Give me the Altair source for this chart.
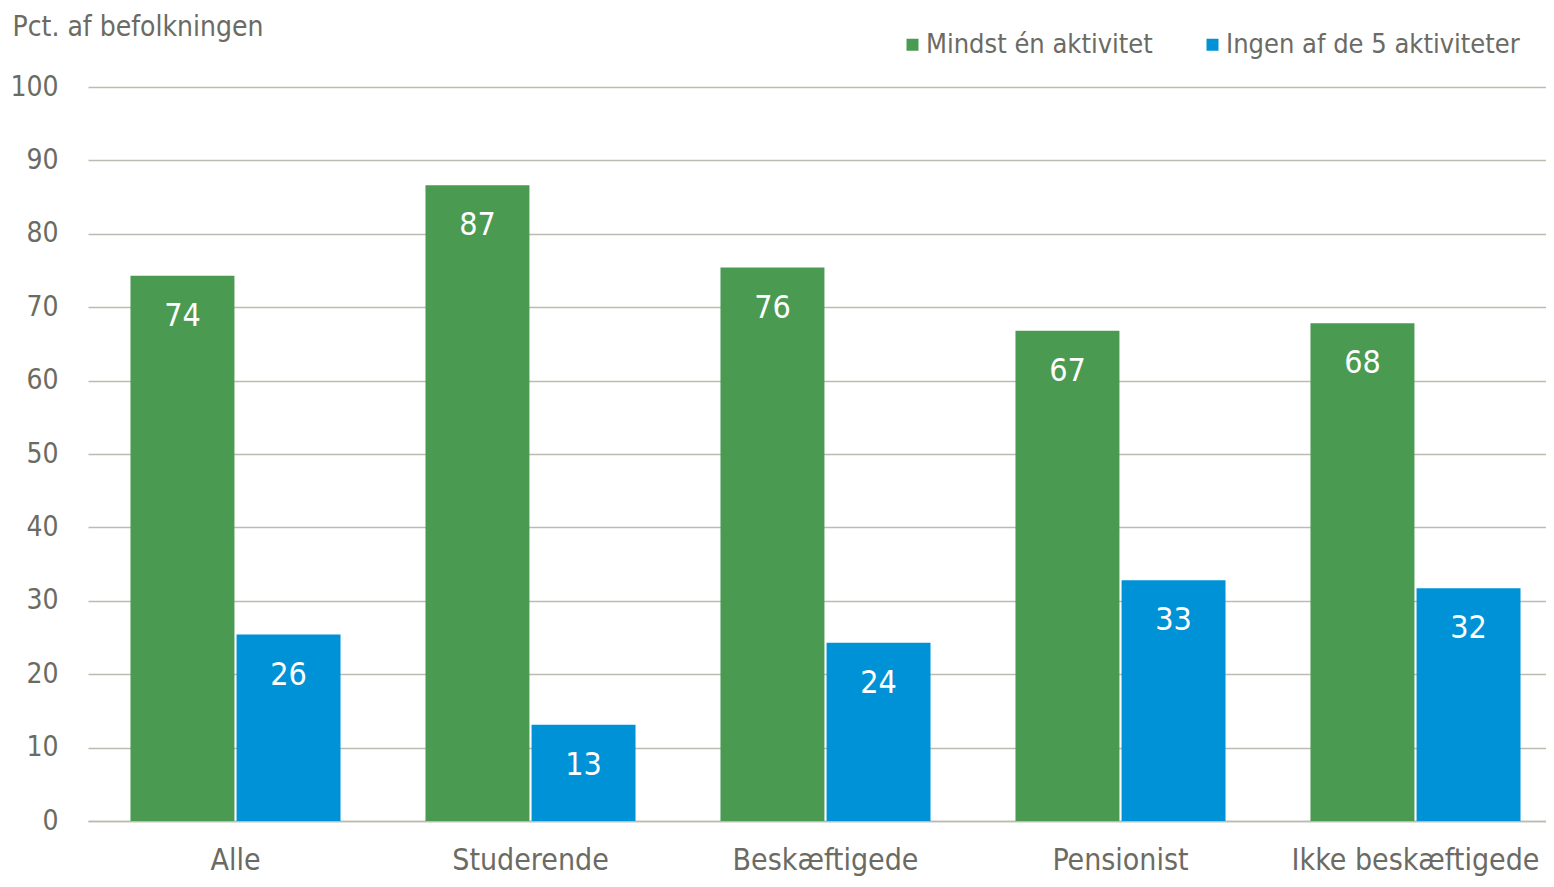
import altair as alt
import pandas as pd

categories = ["Alle", "Studerende", "Beskæftigede", "Pensionist", "Ikke beskæftigede"]
series = ["Mindst én aktivitet", "Ingen af de 5 aktiviteter"]
mindst_values = [74.3, 86.6, 75.4, 66.8, 67.8]
ingen_values = [25.4, 13.1, 24.3, 32.8, 31.7]
mindst_labels = ["74", "87", "76", "67", "68"]
ingen_labels = ["26", "13", "24", "33", "32"]
colors = ["#4a9a52", "#0092d6"]
y_ticks = [0, 10, 20, 30, 40, 50, 60, 70, 80, 90, 100]

rows = []
for i, c in enumerate(categories):
    rows.append(dict(cat=c, serie=series[0], value=mindst_values[i], label=mindst_labels[i]))
    rows.append(dict(cat=c, serie=series[1], value=ingen_values[i], label=ingen_labels[i]))
df = pd.DataFrame(rows)

FONT = "Liberation Sans Narrow, Arial Narrow, DejaVu Sans Condensed, sans-serif"
TXT = "#6b6b63"
GRID = "#bdbab0"

x = alt.X(
    "cat:N", sort=categories,
    scale=alt.Scale(paddingInner=0.288, paddingOuter=0.144, range=[0, 1475]),
    axis=alt.Axis(title=None, labelAngle=0, labelFontSize=30, labelColor=TXT, labelFont=FONT,
                  labelLimit=0, ticks=False, domain=True, domainColor=GRID, domainWidth=1.5,
                  labelPadding=24),
)
xo = alt.XOffset("serie:N", sort=series, scale=alt.Scale(paddingInner=0.02))
y = alt.Y(
    "value:Q", scale=alt.Scale(domain=[0, 100]),
    axis=alt.Axis(values=y_ticks, title="Pct. af befolkningen", titleAngle=0, titleAlign="left",
                  titleBaseline="top", titleX=-76, titleY=-74, titleFont=FONT, titleFontSize=28,
                  titleFontWeight="normal", titleColor=TXT, titleLimit=0,
                  labelFont=FONT, labelFontSize=28, labelColor=TXT, labelPadding=30,
                  grid=True, gridColor=GRID, gridWidth=1.5, domain=False, ticks=False),
)
color = alt.Color(
    "serie:N", sort=series, scale=alt.Scale(domain=series, range=colors),
    legend=alt.Legend(title=None, orient="none", legendX=811, legendY=-56, direction="horizontal",
                      symbolType="square", symbolSize=144, symbolStrokeWidth=0,
                      labelFont=FONT, labelFontSize=27, labelColor=TXT, labelLimit=0,
                      columnPadding=46, labelOffset=0),
)

bars = alt.Chart(df).mark_bar().encode(x=x, xOffset=xo, y=y, color=color)
text = alt.Chart(df).mark_text(color="white", fontSize=32, dy=40, baseline="middle", font=FONT).encode(
    x=x, xOffset=xo, y=y, text="label:N")

chart = (bars + text).properties(
    width=1458, height=734,
    padding={"left": 80, "top": 79, "right": 0, "bottom": 58},
    autosize=alt.AutoSizeParams(type="none"),
).configure_view(stroke=None)

chart.save("out.html", embed_options={"renderer": "svg", "actions": False})
